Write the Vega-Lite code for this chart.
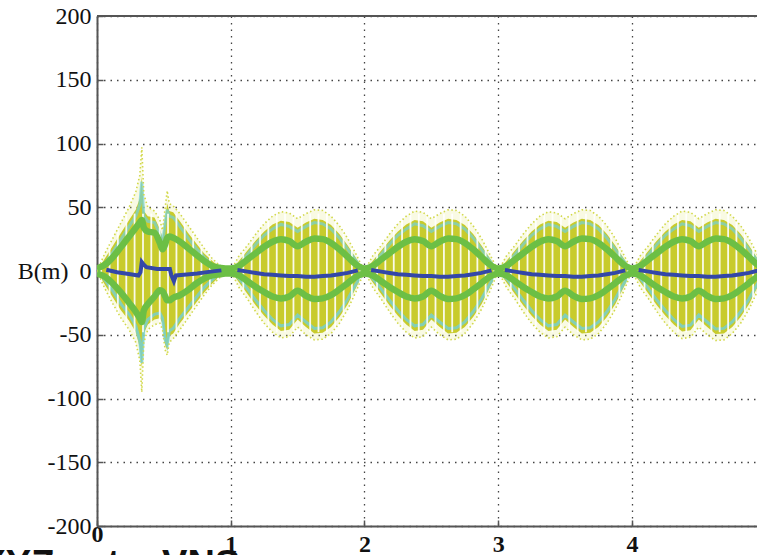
{
  "$schema": "https://vega.github.io/schema/vega-lite/v6.json",
  "width": 660,
  "height": 510,
  "autosize": {"type": "none"},
  "padding": {"left": 97, "top": 16, "right": 0, "bottom": 29},
  "background": "white",
  "datasets": {
    "env": [
      {"x":0,"ot":0,"ob":0,"yt":0,"yb":0,"ct":0,"cb":0,"gu":2,"gl":-2},
      {"x":0.06,"ot":14,"ob":-14,"yt":10,"yb":-11,"ct":6,"cb":-7,"gu":5,"gl":-4.5},
      {"x":0.12,"ot":26,"ob":-26,"yt":20,"yb":-21,"ct":15,"cb":-16,"gu":11,"gl":-10},
      {"x":0.18,"ot":38,"ob":-37,"yt":30,"yb":-31,"ct":25,"cb":-26,"gu":19,"gl":-17},
      {"x":0.24,"ot":50,"ob":-46,"yt":40,"yb":-39,"ct":35,"cb":-34,"gu":27,"gl":-25},
      {"x":0.29,"ot":62,"ob":-56,"yt":48,"yb":-48,"ct":43,"cb":-43,"gu":34,"gl":-32},
      {"x":0.32,"ot":75,"ob":-70,"yt":57,"yb":-60,"ct":52,"cb":-55,"gu":38,"gl":-37},
      {"x":0.335,"ot":97,"ob":-95,"yt":74,"yb":-76,"ct":70,"cb":-72,"gu":40,"gl":-40},
      {"x":0.35,"ot":60,"ob":-56,"yt":47,"yb":-49,"ct":43,"cb":-45,"gu":34,"gl":-31},
      {"x":0.38,"ot":50,"ob":-46,"yt":43,"yb":-42,"ct":39,"cb":-38,"gu":31,"gl":-26},
      {"x":0.43,"ot":47,"ob":-42,"yt":42,"yb":-38,"ct":38,"cb":-34,"gu":30,"gl":-20},
      {"x":0.47,"ot":40,"ob":-41,"yt":33,"yb":-37,"ct":29,"cb":-33,"gu":22,"gl":-15},
      {"x":0.49,"ot":32,"ob":-46,"yt":26,"yb":-41,"ct":22,"cb":-37,"gu":17,"gl":-16},
      {"x":0.51,"ot":50,"ob":-62,"yt":42,"yb":-58,"ct":38,"cb":-54,"gu":21,"gl":-20},
      {"x":0.525,"ot":63,"ob":-66,"yt":53,"yb":-62,"ct":48,"cb":-58,"gu":26,"gl":-23},
      {"x":0.54,"ot":53,"ob":-56,"yt":47,"yb":-51,"ct":43,"cb":-47,"gu":27,"gl":-23},
      {"x":0.57,"ot":51,"ob":-53,"yt":46,"yb":-49,"ct":42,"cb":-45,"gu":26,"gl":-21},
      {"x":0.62,"ot":45,"ob":-46,"yt":39,"yb":-41,"ct":35,"cb":-37,"gu":23,"gl":-19},
      {"x":0.68,"ot":36,"ob":-37,"yt":30,"yb":-33,"ct":26,"cb":-29,"gu":18,"gl":-15},
      {"x":0.74,"ot":27,"ob":-28,"yt":22,"yb":-25,"ct":18,"cb":-21,"gu":13,"gl":-10},
      {"x":0.8,"ot":18,"ob":-19,"yt":14,"yb":-17,"ct":11,"cb":-13,"gu":8,"gl":-6},
      {"x":0.86,"ot":10,"ob":-11,"yt":8,"yb":-10,"ct":5,"cb":-7,"gu":4,"gl":-3.5},
      {"x":0.92,"ot":4,"ob":-5,"yt":3,"yb":-4,"ct":1.5,"cb":-2,"gu":2.5,"gl":-2.5},
      {"x":0.96,"ot":1,"ob":-1,"yt":0.5,"yb":-1,"ct":0,"cb":-0.5,"gu":2,"gl":-2},
      {"x":1.0,"ot":0,"ob":0,"yt":0,"yb":0,"ct":0,"cb":0,"gu":2,"gl":-2},

      {"x":1.0625,"ot":12,"ob":-13,"yt":8,"yb":-9,"ct":5,"cb":-6,"gu":4,"gl":-3.5},
      {"x":1.125,"ot":20,"ob":-22,"yt":16,"yb":-18,"ct":13,"cb":-14,"gu":9,"gl":-8},
      {"x":1.1875,"ot":29,"ob":-32,"yt":24,"yb":-27,"ct":21,"cb":-23,"gu":14,"gl":-12.5},
      {"x":1.25,"ot":37,"ob":-41,"yt":31,"yb":-35,"ct":28,"cb":-31,"gu":19,"gl":-16.5},
      {"x":1.3125,"ot":43,"ob":-48,"yt":36.5,"yb":-42,"ct":33,"cb":-38,"gu":23,"gl":-20},
      {"x":1.375,"ot":46.5,"ob":-52.5,"yt":39.5,"yb":-47,"ct":36.5,"cb":-43,"gu":25,"gl":-21.5},
      {"x":1.4375,"ot":45.5,"ob":-51.5,"yt":38.5,"yb":-46,"ct":35,"cb":-42,"gu":23.5,"gl":-20},
      {"x":1.5,"ot":41,"ob":-44,"yt":34,"yb":-38,"ct":31,"cb":-34.5,"gu":19.5,"gl":-15.5},
      {"x":1.5625,"ot":45,"ob":-50,"yt":38,"yb":-44,"ct":35,"cb":-40,"gu":23,"gl":-19.5},
      {"x":1.625,"ot":48,"ob":-54,"yt":41,"yb":-49,"ct":38,"cb":-45,"gu":25.5,"gl":-22},
      {"x":1.6875,"ot":47.5,"ob":-53.5,"yt":40,"yb":-48.5,"ct":37,"cb":-44.5,"gu":25,"gl":-21.5},
      {"x":1.75,"ot":43,"ob":-49,"yt":36,"yb":-44,"ct":33,"cb":-40,"gu":22,"gl":-19},
      {"x":1.8125,"ot":35.5,"ob":-41,"yt":29,"yb":-36,"ct":26,"cb":-32,"gu":17,"gl":-14.5},
      {"x":1.875,"ot":25.5,"ob":-30,"yt":20,"yb":-26,"ct":17,"cb":-22,"gu":11,"gl":-9.5},
      {"x":1.9375,"ot":13,"ob":-16,"yt":10,"yb":-13,"ct":8,"cb":-10,"gu":5,"gl":-4.5},
      {"x":2.0,"ot":0,"ob":0,"yt":0,"yb":0,"ct":0,"cb":0,"gu":2,"gl":-2},

      {"x":2.0625,"ot":12,"ob":-13,"yt":8,"yb":-9,"ct":5,"cb":-6,"gu":4,"gl":-3.5},
      {"x":2.125,"ot":20,"ob":-22,"yt":16,"yb":-18,"ct":13,"cb":-14,"gu":9,"gl":-8},
      {"x":2.1875,"ot":29,"ob":-32,"yt":24,"yb":-27,"ct":21,"cb":-23,"gu":14,"gl":-12.5},
      {"x":2.25,"ot":37,"ob":-41,"yt":31,"yb":-35,"ct":28,"cb":-31,"gu":19,"gl":-16.5},
      {"x":2.3125,"ot":43,"ob":-48,"yt":36.5,"yb":-42,"ct":33,"cb":-38,"gu":23,"gl":-20},
      {"x":2.375,"ot":47,"ob":-52.5,"yt":40,"yb":-47,"ct":37,"cb":-43,"gu":25,"gl":-21.5},
      {"x":2.4375,"ot":46,"ob":-51.5,"yt":39,"yb":-46,"ct":35.5,"cb":-42,"gu":23.5,"gl":-20},
      {"x":2.5,"ot":41,"ob":-44,"yt":34,"yb":-38,"ct":31,"cb":-34.5,"gu":19.5,"gl":-15.5},
      {"x":2.5625,"ot":45,"ob":-50,"yt":38,"yb":-44,"ct":35,"cb":-40,"gu":23,"gl":-19.5},
      {"x":2.625,"ot":48,"ob":-54,"yt":41,"yb":-49,"ct":38,"cb":-45,"gu":25.5,"gl":-22},
      {"x":2.6875,"ot":47.5,"ob":-53.5,"yt":40,"yb":-48.5,"ct":37,"cb":-44.5,"gu":25,"gl":-21.5},
      {"x":2.75,"ot":43,"ob":-49,"yt":36,"yb":-44,"ct":33,"cb":-40,"gu":22,"gl":-19},
      {"x":2.8125,"ot":35.5,"ob":-41,"yt":29,"yb":-36,"ct":26,"cb":-32,"gu":17,"gl":-14.5},
      {"x":2.875,"ot":25.5,"ob":-30,"yt":20,"yb":-26,"ct":17,"cb":-22,"gu":11,"gl":-9.5},
      {"x":2.9375,"ot":13,"ob":-16,"yt":10,"yb":-13,"ct":8,"cb":-10,"gu":5,"gl":-4.5},
      {"x":3.0,"ot":0,"ob":0,"yt":0,"yb":0,"ct":0,"cb":0,"gu":2,"gl":-2},

      {"x":3.0625,"ot":12,"ob":-13,"yt":8,"yb":-9,"ct":5,"cb":-6,"gu":4,"gl":-3.5},
      {"x":3.125,"ot":20,"ob":-22,"yt":16,"yb":-18,"ct":13,"cb":-14,"gu":9,"gl":-8},
      {"x":3.1875,"ot":29,"ob":-32,"yt":24,"yb":-27,"ct":21,"cb":-23,"gu":14,"gl":-12.5},
      {"x":3.25,"ot":37,"ob":-41,"yt":31,"yb":-35,"ct":28,"cb":-31,"gu":19,"gl":-16.5},
      {"x":3.3125,"ot":43,"ob":-48,"yt":36.5,"yb":-42,"ct":33,"cb":-38,"gu":23,"gl":-20},
      {"x":3.375,"ot":46.5,"ob":-52.5,"yt":39.5,"yb":-47,"ct":36.5,"cb":-43,"gu":25,"gl":-21.5},
      {"x":3.4375,"ot":45.5,"ob":-51.5,"yt":38.5,"yb":-46,"ct":35,"cb":-42,"gu":23.5,"gl":-20},
      {"x":3.5,"ot":41,"ob":-44,"yt":34,"yb":-38,"ct":31,"cb":-34.5,"gu":19.5,"gl":-15.5},
      {"x":3.5625,"ot":45,"ob":-50,"yt":38,"yb":-44,"ct":35,"cb":-40,"gu":23,"gl":-19.5},
      {"x":3.625,"ot":48,"ob":-54,"yt":41,"yb":-49,"ct":38,"cb":-45,"gu":25.5,"gl":-22},
      {"x":3.6875,"ot":47.5,"ob":-53.5,"yt":40,"yb":-48.5,"ct":37,"cb":-44.5,"gu":25,"gl":-21.5},
      {"x":3.75,"ot":43,"ob":-49,"yt":36,"yb":-44,"ct":33,"cb":-40,"gu":22,"gl":-19},
      {"x":3.8125,"ot":35.5,"ob":-41,"yt":29,"yb":-36,"ct":26,"cb":-32,"gu":17,"gl":-14.5},
      {"x":3.875,"ot":25.5,"ob":-30,"yt":20,"yb":-26,"ct":17,"cb":-22,"gu":11,"gl":-9.5},
      {"x":3.9375,"ot":13,"ob":-16,"yt":10,"yb":-13,"ct":8,"cb":-10,"gu":5,"gl":-4.5},
      {"x":4.0,"ot":0,"ob":0,"yt":0,"yb":0,"ct":0,"cb":0,"gu":2,"gl":-2},

      {"x":4.0625,"ot":12,"ob":-13,"yt":8,"yb":-9,"ct":5,"cb":-6,"gu":4,"gl":-3.5},
      {"x":4.125,"ot":20,"ob":-22,"yt":16,"yb":-18,"ct":13,"cb":-14,"gu":9,"gl":-8},
      {"x":4.1875,"ot":29,"ob":-32,"yt":24,"yb":-27,"ct":21,"cb":-23,"gu":14,"gl":-12.5},
      {"x":4.25,"ot":37,"ob":-41,"yt":31,"yb":-35,"ct":28,"cb":-31,"gu":19,"gl":-16.5},
      {"x":4.3125,"ot":43,"ob":-48,"yt":36.5,"yb":-42,"ct":33,"cb":-38,"gu":23,"gl":-20},
      {"x":4.375,"ot":47,"ob":-53,"yt":40,"yb":-47.5,"ct":37,"cb":-43.5,"gu":25,"gl":-21.5},
      {"x":4.4375,"ot":46,"ob":-52,"yt":39,"yb":-46.5,"ct":35.5,"cb":-42.5,"gu":23.5,"gl":-20},
      {"x":4.5,"ot":41,"ob":-44,"yt":34,"yb":-38,"ct":31,"cb":-34.5,"gu":19.5,"gl":-15.5},
      {"x":4.5625,"ot":45,"ob":-50,"yt":38,"yb":-44,"ct":35,"cb":-40,"gu":23,"gl":-19.5},
      {"x":4.625,"ot":48,"ob":-54.5,"yt":41,"yb":-49.5,"ct":38,"cb":-45.5,"gu":25.5,"gl":-22},
      {"x":4.6875,"ot":47.5,"ob":-54,"yt":40,"yb":-49,"ct":37,"cb":-45,"gu":25,"gl":-21.5},
      {"x":4.75,"ot":43,"ob":-49,"yt":36,"yb":-44,"ct":33,"cb":-40,"gu":22,"gl":-19},
      {"x":4.8125,"ot":35.5,"ob":-41,"yt":29,"yb":-36,"ct":26,"cb":-32,"gu":17,"gl":-14.5},
      {"x":4.875,"ot":25.5,"ob":-30,"yt":20,"yb":-26,"ct":17,"cb":-22,"gu":11,"gl":-9.5},
      {"x":4.9375,"ot":13,"ob":-16,"yt":10,"yb":-13,"ct":8,"cb":-10,"gu":5,"gl":-4.5},
      {"x":5.0,"ot":0,"ob":0,"yt":0,"yb":0,"ct":0,"cb":0,"gu":2,"gl":-2}
    ],
    "blue": [
      {"lobe":1,"x":0.07,"b":1},{"lobe":1,"x":0.15,"b":-1},{"lobe":1,"x":0.25,"b":-2.5},{"lobe":1,"x":0.31,"b":-3.5},
      {"lobe":1,"x":0.325,"b":-1},{"lobe":1,"x":0.335,"b":7},{"lobe":1,"x":0.35,"b":5},{"lobe":1,"x":0.37,"b":3},
      {"lobe":1,"x":0.45,"b":1.5},{"lobe":1,"x":0.545,"b":1.5},{"lobe":1,"x":0.555,"b":-3},{"lobe":1,"x":0.575,"b":-8},
      {"lobe":1,"x":0.59,"b":-3.5},{"lobe":1,"x":0.65,"b":-3},{"lobe":1,"x":0.75,"b":-2},{"lobe":1,"x":0.85,"b":-0.5},{"lobe":1,"x":0.93,"b":0.5},

      {"lobe":2,"x":1.05,"b":0.8},{"lobe":2,"x":1.125,"b":-0.5},{"lobe":2,"x":1.1875,"b":-1.5},{"lobe":2,"x":1.25,"b":-2.5},
      {"lobe":2,"x":1.3125,"b":-3},{"lobe":2,"x":1.375,"b":-3.5},{"lobe":2,"x":1.4375,"b":-4},{"lobe":2,"x":1.5,"b":-4},
      {"lobe":2,"x":1.5625,"b":-4.5},{"lobe":2,"x":1.625,"b":-4.5},{"lobe":2,"x":1.6875,"b":-4},{"lobe":2,"x":1.75,"b":-3.5},
      {"lobe":2,"x":1.8125,"b":-2.5},{"lobe":2,"x":1.875,"b":-1.5},{"lobe":2,"x":1.95,"b":0.5},

      {"lobe":3,"x":2.05,"b":0.8},{"lobe":3,"x":2.125,"b":-0.5},{"lobe":3,"x":2.1875,"b":-1.5},{"lobe":3,"x":2.25,"b":-2.5},
      {"lobe":3,"x":2.3125,"b":-3},{"lobe":3,"x":2.375,"b":-3.5},{"lobe":3,"x":2.4375,"b":-4},{"lobe":3,"x":2.5,"b":-4},
      {"lobe":3,"x":2.5625,"b":-4.5},{"lobe":3,"x":2.625,"b":-4.5},{"lobe":3,"x":2.6875,"b":-4},{"lobe":3,"x":2.75,"b":-3.5},
      {"lobe":3,"x":2.8125,"b":-2.5},{"lobe":3,"x":2.875,"b":-1.5},{"lobe":3,"x":2.95,"b":0.5},

      {"lobe":4,"x":3.05,"b":0.8},{"lobe":4,"x":3.125,"b":-0.5},{"lobe":4,"x":3.1875,"b":-1.5},{"lobe":4,"x":3.25,"b":-2.5},
      {"lobe":4,"x":3.3125,"b":-3},{"lobe":4,"x":3.375,"b":-3.5},{"lobe":4,"x":3.4375,"b":-4},{"lobe":4,"x":3.5,"b":-4},
      {"lobe":4,"x":3.5625,"b":-4.5},{"lobe":4,"x":3.625,"b":-4.5},{"lobe":4,"x":3.6875,"b":-4},{"lobe":4,"x":3.75,"b":-3.5},
      {"lobe":4,"x":3.8125,"b":-2.5},{"lobe":4,"x":3.875,"b":-1.5},{"lobe":4,"x":3.95,"b":0.5},

      {"lobe":5,"x":4.05,"b":0.8},{"lobe":5,"x":4.125,"b":-0.5},{"lobe":5,"x":4.1875,"b":-1.5},{"lobe":5,"x":4.25,"b":-2.5},
      {"lobe":5,"x":4.3125,"b":-3},{"lobe":5,"x":4.375,"b":-3.5},{"lobe":5,"x":4.4375,"b":-4},{"lobe":5,"x":4.5,"b":-4},
      {"lobe":5,"x":4.5625,"b":-4.5},{"lobe":5,"x":4.625,"b":-4.5},{"lobe":5,"x":4.6875,"b":-4},{"lobe":5,"x":4.75,"b":-3.5},
      {"lobe":5,"x":4.8125,"b":-2.5},{"lobe":5,"x":4.875,"b":-1.5},{"lobe":5,"x":4.95,"b":0.5}
    ],
    "stripes": [
      {"x":0.031},{"x":0.094},{"x":0.156},{"x":0.219},{"x":0.281},{"x":0.344},{"x":0.406},{"x":0.469},
      {"x":0.531},{"x":0.594},{"x":0.656},{"x":0.719},{"x":0.781},{"x":0.844},{"x":0.906},{"x":0.969},
      {"x":1.031},{"x":1.094},{"x":1.156},{"x":1.219},{"x":1.281},{"x":1.344},{"x":1.406},{"x":1.469},
      {"x":1.531},{"x":1.594},{"x":1.656},{"x":1.719},{"x":1.781},{"x":1.844},{"x":1.906},{"x":1.969},
      {"x":2.031},{"x":2.094},{"x":2.156},{"x":2.219},{"x":2.281},{"x":2.344},{"x":2.406},{"x":2.469},
      {"x":2.531},{"x":2.594},{"x":2.656},{"x":2.719},{"x":2.781},{"x":2.844},{"x":2.906},{"x":2.969},
      {"x":3.031},{"x":3.094},{"x":3.156},{"x":3.219},{"x":3.281},{"x":3.344},{"x":3.406},{"x":3.469},
      {"x":3.531},{"x":3.594},{"x":3.656},{"x":3.719},{"x":3.781},{"x":3.844},{"x":3.906},{"x":3.969},
      {"x":4.031},{"x":4.094},{"x":4.156},{"x":4.219},{"x":4.281},{"x":4.344},{"x":4.406},{"x":4.469},
      {"x":4.531},{"x":4.594},{"x":4.656},{"x":4.719},{"x":4.781},{"x":4.844},{"x":4.906}
    ]
  },
  "layer": [
    {
      "data": {"name": "env"},
      "mark": {"type": "area", "color": "#e4e87e", "opacity": 0.22, "clip": true},
      "encoding": {
        "x": {"field": "x", "type": "quantitative",
          "scale": {"domain": [0, 4.935], "nice": false, "zero": false},
          "axis": {
            "values": [0, 1, 2, 3, 4],
            "labelExpr": "'' + datum.value",
            "title": "XYZ\u00a0\u00a0\u00a0\u00a0\u00a0t\u00a0\u00a0\u00a0\u00a0VNS",
            "titleFont": "Liberation Sans", "titleFontSize": 38, "titleFontWeight": "bold", "titleColor": "#111",
            "titleAlign": "left", "titleAnchor": "start", "titleX": -117, "titleY": 50, "titleBaseline": "alphabetic",
            "labelFont": "Liberation Serif", "labelFontSize": 24, "labelFontWeight": "bold", "labelColor": "#111",
            "labelPadding": {"condition": {"test": "datum.value == 0", "value": 2}, "value": 12},
            "labelFlush": false
          }
        },
        "y": {"field": "ob", "type": "quantitative",
          "scale": {"domain": [-200, 200], "nice": false, "zero": false},
          "axis": {
            "values": [-200, -150, -100, -50, 0, 50, 100, 150, 200],
            "labelExpr": "'' + datum.value",
            "title": "B(m)", "titleAngle": 0, "titleAlign": "right", "titleBaseline": "middle",
            "titleX": -29, "titleY": 255,
            "titleFont": "Liberation Serif", "titleFontSize": 24, "titleFontWeight": "normal", "titleColor": "#111",
            "labelFont": "Liberation Serif", "labelFontSize": 24, "labelColor": "#111",
            "labelPadding": 12, "labelFlush": false
          }
        },
        "y2": {"field": "ot"}
      }
    },
    {
      "data": {"name": "env"},
      "mark": {"type": "area", "color": "#c8cb2c", "clip": true},
      "encoding": {
        "x": {"field": "x", "type": "quantitative"},
        "y": {"field": "yb", "type": "quantitative"},
        "y2": {"field": "yt"}
      }
    },
    {
      "data": {"name": "env"},
      "mark": {"type": "line", "color": "#72d0d8", "strokeWidth": 3, "opacity": 0.7, "clip": true},
      "encoding": {
        "x": {"field": "x", "type": "quantitative"},
        "y": {"field": "ct", "type": "quantitative"}
      }
    },
    {
      "data": {"name": "env"},
      "mark": {"type": "line", "color": "#72d0d8", "strokeWidth": 3, "opacity": 0.8, "clip": true},
      "encoding": {
        "x": {"field": "x", "type": "quantitative"},
        "y": {"field": "cb", "type": "quantitative"}
      }
    },
    {
      "data": {"name": "stripes"},
      "mark": {"type": "rule", "color": "white", "strokeWidth": 1.8, "opacity": 0.9, "clip": true},
      "encoding": {
        "x": {"field": "x", "type": "quantitative"},
        "y": {"datum": -48},
        "y2": {"datum": 45}
      }
    },
    {
      "data": {"name": "env"},
      "mark": {"type": "line", "color": "#d2d84a", "strokeWidth": 1.6, "strokeDash": [1.5, 2.5], "clip": true},
      "encoding": {
        "x": {"field": "x", "type": "quantitative"},
        "y": {"field": "ot", "type": "quantitative"}
      }
    },
    {
      "data": {"name": "env"},
      "mark": {"type": "line", "color": "#d2d84a", "strokeWidth": 1.6, "strokeDash": [1.5, 2.5], "clip": true},
      "encoding": {
        "x": {"field": "x", "type": "quantitative"},
        "y": {"field": "ob", "type": "quantitative"}
      }
    },
    {
      "data": {"name": "env"},
      "mark": {"type": "line", "color": "#6cbf45", "strokeWidth": 6.5, "interpolate": "monotone", "clip": true},
      "encoding": {
        "x": {"field": "x", "type": "quantitative"},
        "y": {"field": "gu", "type": "quantitative"}
      }
    },
    {
      "data": {"name": "env"},
      "mark": {"type": "line", "color": "#6cbf45", "strokeWidth": 6.5, "interpolate": "monotone", "clip": true},
      "encoding": {
        "x": {"field": "x", "type": "quantitative"},
        "y": {"field": "gl", "type": "quantitative"}
      }
    },
    {
      "data": {"name": "blue"},
      "mark": {"type": "line", "color": "#3347a8", "strokeWidth": 4, "clip": true},
      "encoding": {
        "x": {"field": "x", "type": "quantitative"},
        "y": {"field": "b", "type": "quantitative"},
        "detail": {"field": "lobe", "type": "nominal"}
      }
    },
    {
      "data": {"values": [{"top": 200}]},
      "mark": {"type": "rule", "color": "#555", "strokeWidth": 2},
      "encoding": {
        "y": {"field": "top", "type": "quantitative"}
      }
    }
  ],
  "config": {
    "view": {"stroke": null},
    "axis": {
      "domainColor": "#555",
      "domainWidth": 2,
      "tickColor": "#555",
      "tickWidth": 1.5,
      "tickSize": -6,
      "grid": true,
      "gridColor": "#444",
      "gridDash": [1.5, 5],
      "gridWidth": 1.3,
      "gridOpacity": 1
    }
  }
}
